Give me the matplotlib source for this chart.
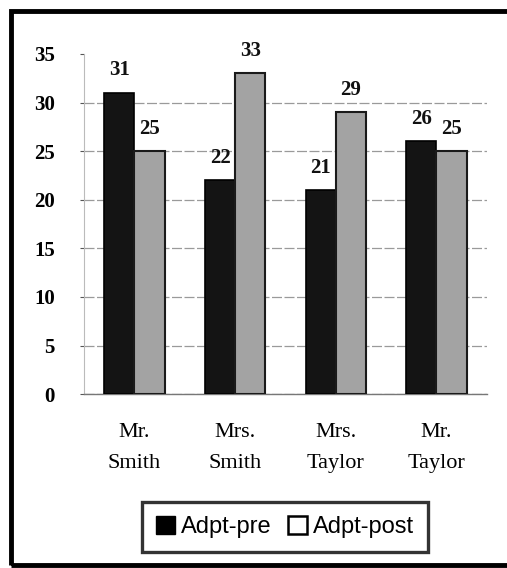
import matplotlib.pyplot as plt
import numpy as np
from matplotlib.patches import Rectangle, Patch

categories = ['Mr.\nSmith', 'Mrs.\nSmith', 'Mrs.\nTaylor', 'Mr.\nTaylor']
adpt_pre = [31, 22, 21, 26]
adpt_post = [25, 33, 29, 25]
series_names = ['Adpt-pre', 'Adpt-post']

plt.rcParams['font.family'] = ['Liberation Serif', 'DejaVu Serif']

fig = plt.figure(figsize=(5.07, 5.68), dpi=100)
ax = fig.add_axes([0.166, 0.306, 0.794, 0.599])

x = np.arange(len(categories))
w = 0.3
b1 = ax.bar(x - w / 2, adpt_pre, w, color='#141414', edgecolor='#000000', linewidth=1.2, zorder=3)
b2 = ax.bar(x + w / 2, adpt_post, w, color='#a3a3a3', edgecolor='#1a1a1a', linewidth=1.5, zorder=3)

for bars in (b1, b2):
    for r in bars:
        ax.annotate(f'{int(r.get_height())}', (r.get_x() + r.get_width() / 2, r.get_height()),
                    xytext=(0, 9), textcoords='offset points', ha='center', va='bottom',
                    fontsize=15, fontweight='bold', color='#111111')

ax.set_xlim(-0.5, len(categories) - 0.5)
ax.set_ylim(0, 35)
ax.set_yticks(range(0, 36, 5))
ax.yaxis.grid(True, color='#9a9a9a', linewidth=0.9, linestyle=(0, (8, 2)), zorder=0)
ax.get_ygridlines()[-1].set_visible(False)
ax.set_xticks(x)
ax.set_xticklabels(categories, fontsize=16, linespacing=1.8)
ax.tick_params(axis='x', length=0, pad=21)
ax.tick_params(axis='y', length=3, color='#555555', labelsize=15, pad=18)
for lab in ax.get_yticklabels():
    lab.set_fontweight('bold')
for s in ['top', 'right']:
    ax.spines[s].set_visible(False)
ax.spines['left'].set_color('#bbbbbb')
ax.spines['left'].set_linewidth(0.8)
ax.spines['bottom'].set_color('#777777')
ax.spines['bottom'].set_linewidth(1.0)

handles = [Patch(facecolor='#000000', edgecolor='#000000'),
           Patch(facecolor='white', edgecolor='#000000', linewidth=1.8)]
leg = fig.legend(handles, series_names, loc='center', bbox_to_anchor=(0.562, 0.072),
                 ncol=2, frameon=True, fancybox=False, edgecolor='black',
                 prop={'family': 'Liberation Sans', 'size': 17},
                 handlelength=0.8, handleheight=0.8, handletextpad=0.25,
                 columnspacing=0.7, borderpad=0.6, borderaxespad=0)
leg.get_frame().set_linewidth(2.4)

fig.patches.append(Rectangle((0.022, 0.005), 1.0, 0.976, transform=fig.transFigure,
                             fill=False, edgecolor='black', linewidth=3.5))

fig.savefig('out.png', dpi=100)
